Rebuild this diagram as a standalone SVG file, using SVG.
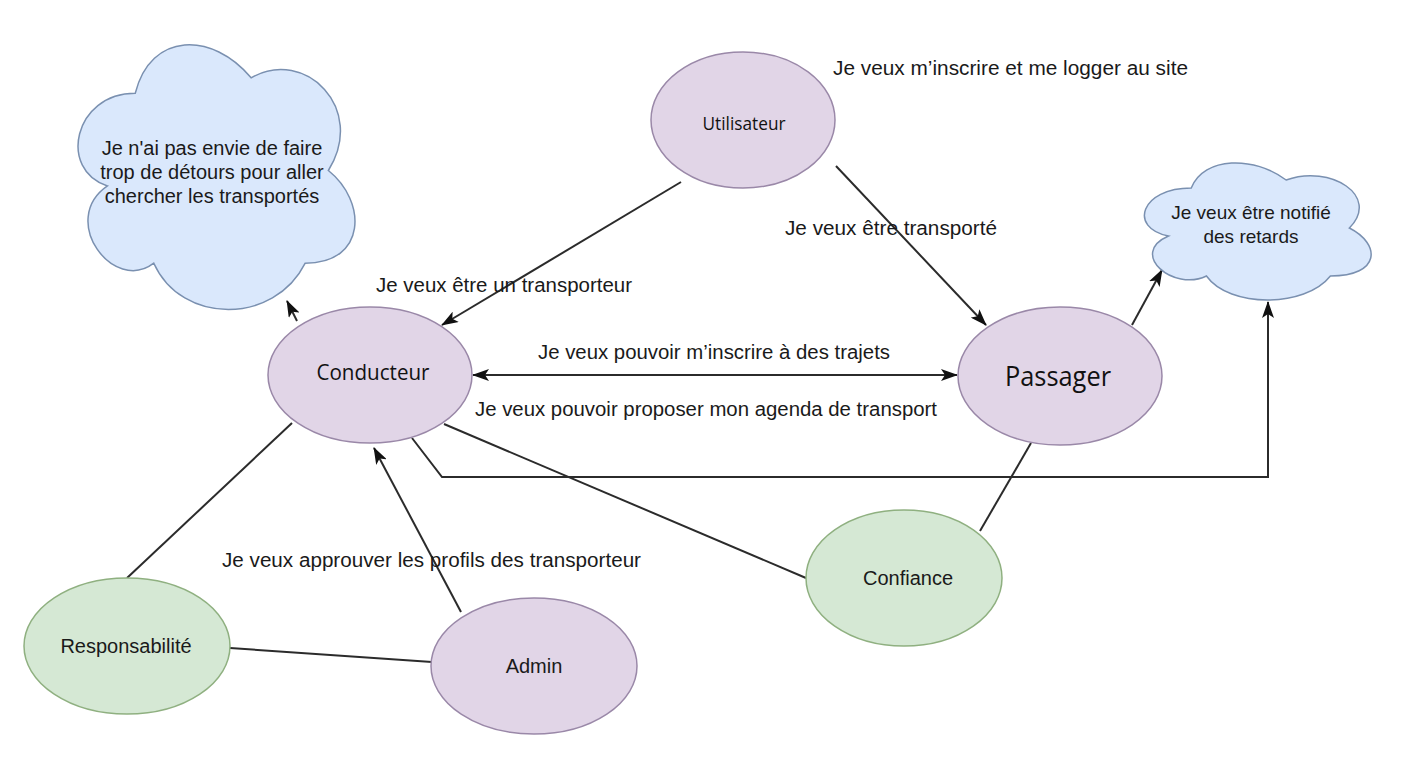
<svg xmlns="http://www.w3.org/2000/svg" width="1405" height="768" viewBox="0 0 1405 768">
<style>
.bg{fill:#ffffff}
.purple{fill:#e1d5e7;stroke:#9a88a8;stroke-width:1.5}
.green{fill:#d5e8d4;stroke:#8fb080;stroke-width:1.5}
.cloud{fill:#dae8fc;stroke:#7a90b0;stroke-width:1.5}
.lbl{font-family:"Liberation Sans",Arial,sans-serif;font-size:20px;fill:#1a1a1a}
.cal{font-family:"Open Sans","Noto Sans",sans-serif;fill:#111}
.mid{text-anchor:middle}
.conn{fill:none;stroke:#2b2b2b;stroke-width:2}
</style>
<defs>
<marker id="arr" viewBox="0 0 17 12" refX="16" refY="6" markerWidth="17" markerHeight="12" markerUnits="userSpaceOnUse" orient="auto-start-reverse">
<path d="M0,0 L17,6 L0,12 L4,6 Z" fill="#111"/>
</marker>
</defs>
<rect class="bg" x="0" y="0" width="1405" height="768"/>

<g id="connectors">
<line class="conn" x1="681" y1="182" x2="442" y2="325" marker-end="url(#arr)"/>
<line class="conn" x1="836" y1="166" x2="986" y2="325" marker-end="url(#arr)"/>
<line class="conn" x1="473" y1="375" x2="957" y2="375" marker-start="url(#arr)" marker-end="url(#arr)"/>
<line class="conn" x1="297" y1="321" x2="287" y2="301" marker-end="url(#arr)"/>
<polyline class="conn" points="412,438 442,477 1268,477 1268,302" marker-end="url(#arr)"/>
<line class="conn" x1="1132" y1="325" x2="1162" y2="270" marker-end="url(#arr)"/>
<line class="conn" x1="444" y1="424" x2="806" y2="578"/>
<line class="conn" x1="1031" y1="443" x2="980" y2="531"/>
<line class="conn" x1="292" y1="423" x2="127" y2="578"/>
<line class="conn" x1="461" y1="612" x2="374" y2="448" marker-end="url(#arr)"/>
<line class="conn" x1="230" y1="648" x2="432" y2="662"/>
</g>

<g id="edge-labels">
<text class="lbl" x="833" y="75" textLength="355" lengthAdjust="spacingAndGlyphs">Je veux m’inscrire et me logger au site</text>
<text class="lbl" x="376" y="292" textLength="256" lengthAdjust="spacingAndGlyphs">Je veux être un transporteur</text>
<text class="lbl" x="785" y="235" textLength="212" lengthAdjust="spacingAndGlyphs">Je veux être transporté</text>
<text class="lbl" x="538" y="359" textLength="352" lengthAdjust="spacingAndGlyphs">Je veux pouvoir m’inscrire à des trajets</text>
<text class="lbl" x="475" y="416" textLength="462" lengthAdjust="spacingAndGlyphs">Je veux pouvoir proposer mon agenda de transport</text>
<text class="lbl" x="222" y="567" textLength="419" lengthAdjust="spacingAndGlyphs">Je veux approuver les profils des transporteur</text>
</g>

<g id="cloud-detours">
<path class="cloud" transform="translate(58,16) scale(309,309)" vector-effect="non-scaling-stroke" d="M0.25,0.25 C0.05,0.25 0,0.5 0.16,0.55 C0,0.66 0.18,0.9 0.31,0.8 C0.4,1 0.7,1 0.8,0.8 C1,0.8 1,0.6 0.875,0.5 C1,0.3 0.8,0.1 0.625,0.2 C0.5,0.05 0.3,0.05 0.25,0.25 Z"/>
<text class="lbl mid" x="212" y="155">Je n'ai pas envie de faire</text>
<text class="lbl mid" x="212" y="179">trop de détours pour aller</text>
<text class="lbl mid" x="212" y="203">chercher les transportés</text>
</g>

<g id="cloud-retards">
<path class="cloud" transform="translate(1128,148) scale(253,160)" vector-effect="non-scaling-stroke" d="M0.25,0.25 C0.05,0.25 0,0.5 0.16,0.55 C0,0.66 0.18,0.9 0.31,0.8 C0.4,1 0.7,1 0.8,0.8 C1,0.8 1,0.6 0.875,0.5 C1,0.3 0.8,0.1 0.625,0.2 C0.5,0.05 0.3,0.05 0.25,0.25 Z"/>
<text class="lbl mid" x="1251" y="219" style="font-size:19px">Je veux être notifié</text>
<text class="lbl mid" x="1251" y="243" style="font-size:19px">des retards</text>
</g>

<g id="utilisateur">
<ellipse class="purple" cx="743" cy="120" rx="92" ry="68"/>
<text class="cal mid" x="744" y="130" style="font-size:19px" textLength="83" lengthAdjust="spacingAndGlyphs">Utilisateur</text>
</g>

<g id="conducteur">
<ellipse class="purple" cx="370" cy="375" rx="102" ry="68"/>
<text class="cal mid" x="373" y="380" style="font-size:22px" textLength="113" lengthAdjust="spacingAndGlyphs">Conducteur</text>
</g>

<g id="passager">
<ellipse class="purple" cx="1060" cy="376" rx="102" ry="69"/>
<text class="cal mid" x="1058" y="386" style="font-size:27px" textLength="106" lengthAdjust="spacingAndGlyphs">Passager</text>
</g>

<g id="confiance">
<ellipse class="green" cx="904" cy="578" rx="98" ry="68"/>
<text class="lbl mid" x="908" y="585">Confiance</text>
</g>

<g id="responsabilite">
<ellipse class="green" cx="127" cy="646" rx="103" ry="68"/>
<text class="lbl mid" x="126" y="653">Responsabilité</text>
</g>

<g id="admin">
<ellipse class="purple" cx="534" cy="666" rx="103" ry="68"/>
<text class="lbl mid" x="534" y="673">Admin</text>
</g>
</svg>
